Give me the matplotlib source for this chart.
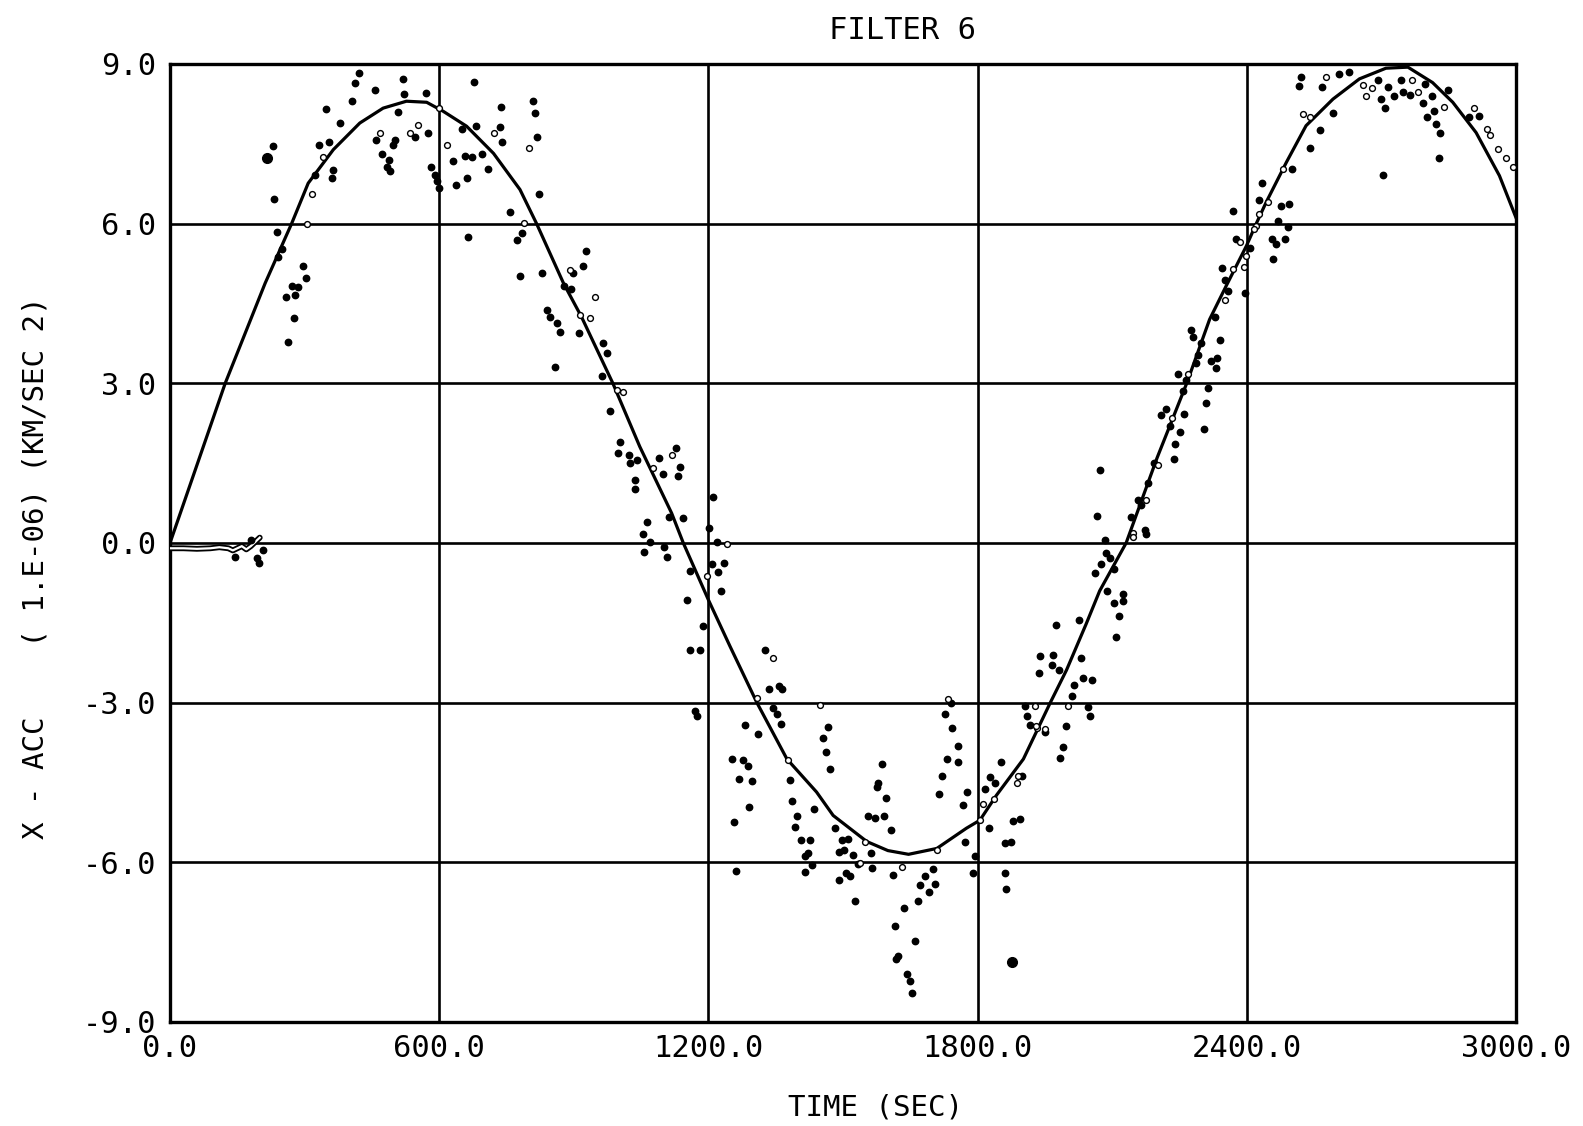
import matplotlib
matplotlib.use("Agg")
import matplotlib.pyplot as plt

# ---------------- data ----------------
x_ticks = [0, 600, 1200, 1800, 2400, 3000]
x_tick_labels = ["0.0", "600.0", "1200.0", "1800.0", "2400.0", "3000.0"]
y_ticks = [-9, -6, -3, 0, 3, 6, 9]
y_tick_labels = ["-9.0", "-6.0", "-3.0", "0.0", "3.0", "6.0", "9.0"]

# true acceleration curve
curve_t = [0, 123, 212, 271, 308, 364, 423, 475, 527, 572, 609, 661, 721, 780,
           817, 877, 917, 987, 1047, 1118, 1144, 1200, 1248, 1308, 1375, 1441,
           1478, 1553, 1600, 1646, 1709, 1775, 1805, 1842, 1902, 1962, 1998,
           2042, 2072, 2131, 2200, 2266, 2317, 2354, 2399, 2421, 2443, 2488,
           2532, 2592, 2651, 2710, 2759, 2814, 2859, 2911, 2963, 3000]
curve_y = [0.0, 3.0, 4.88, 6.0, 6.76, 7.39, 7.89, 8.17, 8.30, 8.28, 8.11, 7.83,
           7.32, 6.64, 6.0, 4.88, 4.25, 3.0, 1.81, 0.56, 0.0, -1.07, -1.94,
           -3.0, -4.06, -4.68, -5.12, -5.61, -5.78, -5.85, -5.74, -5.36, -5.21,
           -4.74, -4.06, -3.0, -2.39, -1.52, -0.90, 0.0, 1.60, 3.0, 4.20, 4.83,
           5.58, 6.0, 6.40, 7.15, 7.84, 8.34, 8.72, 8.92, 8.94, 8.65, 8.28,
           7.71, 6.90, 6.11]

# filter estimate before convergence (hollow trace near zero)
start_t = [0, 30, 60, 90, 110, 130, 140, 150, 160, 170, 180, 190, 200]
start_y = [-0.10, -0.10, -0.11, -0.10, -0.08, -0.10, -0.14, -0.10, -0.06,
           -0.12, -0.06, 0.02, 0.10]

# measurements (filled dots)
meas_t = [
    421, 412, 405, 457, 519, 522, 570, 678, 347, 379, 509, 460, 501, 498, 546,
    576, 472, 487, 483, 490, 582, 591, 594, 600, 229, 217, 333, 355, 323, 364,
    362, 232, 238, 249, 241, 296, 302, 286, 271, 258, 279, 277, 262, 631, 650,
    658, 674, 683, 695, 709, 661, 637, 736, 737, 741, 808, 814, 817, 823, 758,
    784, 773, 665, 779, 830, 927, 921, 899, 877, 893, 840, 847, 863, 869, 912,
    966, 973, 858, 962, 981, 1003, 999, 1022, 1025, 1040, 1036, 1036,
    1089, 1128, 1137, 1132, 1098, 1063, 1054, 1070, 1100, 1107, 1057, 1113,
    1143, 1211, 1201, 1219, 1207, 1235, 1222, 1159,
    1152, 1227, 1187, 1159, 1181, 1170, 1174, 1326, 1334, 1358, 1365, 1343,
    1352, 1362, 1282, 1311, 1466, 1456, 1462, 1471, 1252, 1276, 1288, 1269,
    1297, 1291, 1256, 1382, 1387, 1398, 1393, 1436, 1406, 1427, 1422, 1415,
    1430, 1415, 1482, 1497, 1512, 1490, 1502, 1522, 1492, 1507, 1516, 1527,
    1534, 1556, 1571, 1592, 1586, 1579, 1576, 1596, 1607, 1562, 1564, 1612,
    1637, 1666, 1672, 1692, 1706, 1682, 1700, 1616, 1660, 1623, 1619, 1642,
    1649, 1654, 1741, 1727, 1742, 1757, 1731, 1757, 1720, 1715, 1776, 1768,
    1772, 1794, 1790, 1817, 1827, 1839, 1852, 1900, 1826, 1861, 1874, 1878,
    1894, 1861, 1864, 1905, 1910, 1916, 1950, 1940, 1937, 1262,
    2066, 2083, 2087, 2094, 2074, 2061, 2142, 2172, 2176, 2105, 2088, 2125,
    2123, 2105, 2115, 2109, 1975, 2026, 1969, 1966, 1981, 2031, 2035, 2055,
    2014, 2011, 2046, 2050, 1996, 1990, 1984,
    2520, 2517, 2568, 2606, 2627, 2692, 2714, 2744, 2798, 2699, 2729, 2748,
    2763, 2813, 2848, 2707, 2792, 2817, 2801, 2822, 2831, 2828, 2703, 2592,
    2562, 2541, 2501, 2896, 2918, 2434, 2428, 2476, 2495, 2370, 2469, 2491,
    2375, 2456, 2465, 2484, 2459, 2407, 2345, 2352, 2358, 2395, 2328, 2276,
    2281, 2298, 2340, 2291, 2287, 2333, 2321, 2332, 2246, 2265, 2313, 2257,
    2309, 2219, 2209, 2261, 2305, 2228, 2252, 2241, 2237, 2194, 2072, 2157,
    2165, 2180,
    145, 193, 199, 208, 180]
meas_y = [
    8.83, 8.64, 8.30, 8.52, 8.72, 8.44, 8.46, 8.66, 8.15, 7.89, 8.09, 7.58,
    7.58, 7.48, 7.63, 7.71, 7.31, 7.19, 7.06, 6.98, 7.07, 6.92, 6.81, 6.67,
    7.45, 7.23, 7.48, 7.54, 6.92, 7.01, 6.85, 6.47, 5.85, 5.53, 5.38, 5.21,
    4.97, 4.80, 4.82, 4.63, 4.66, 4.22, 3.78, 7.17, 7.78, 7.27, 7.25, 7.84,
    7.31, 7.02, 6.85, 6.73, 7.81, 8.19, 7.54, 8.31, 8.08, 7.63, 6.56, 6.21,
    5.82, 5.70, 5.74, 5.01, 5.07, 5.49, 5.21, 5.08, 4.83, 4.77, 4.38, 4.25,
    4.14, 3.97, 3.94, 3.75, 3.57, 3.31, 3.14, 2.47, 1.89, 1.69, 1.65, 1.50,
    1.56, 1.18, 1.01,
    1.60, 1.79, 1.43, 1.25, 1.29, 0.40, 0.17, 0.02, -0.07, -0.27, -0.17, 0.49,
    0.47, 0.87, 0.28, 0.02, -0.40, -0.37, -0.55, -0.52,
    -1.07, -0.90, -1.56, -2.02, -2.02, -3.15, -3.25, -2.02, -2.74, -2.69,
    -2.74, -3.11, -3.22, -3.40, -3.42, -3.59, -3.45, -3.67, -3.92, -4.24,
    -4.06, -4.08, -4.19, -4.44, -4.47, -4.97, -5.25, -4.46, -4.85, -5.13,
    -5.33, -5.00, -5.58, -5.58, -5.83, -5.89, -6.05, -6.19, -5.35, -5.58,
    -5.57, -5.81, -5.77, -5.86, -6.33, -6.20, -6.25, -6.72, -6.04, -5.13,
    -5.16, -5.13, -4.15, -4.51, -4.59, -4.80, -5.40, -5.82, -6.11, -6.24,
    -6.85, -6.73, -6.43, -6.56, -6.40, -6.25, -6.12, -7.20, -7.48, -7.76,
    -7.82, -8.10, -8.23, -8.46, -3.00, -3.22, -3.47, -3.82, -4.06, -4.12,
    -4.37, -4.72, -4.68, -4.93, -5.61, -5.89, -6.20, -4.63, -4.40, -4.51,
    -4.12, -4.37, -5.36, -5.63, -5.61, -5.23, -5.18, -6.20, -6.50, -3.07,
    -3.25, -3.42, -3.56, -2.13, -2.44, -6.16,
    0.50, 0.06, -0.19, -0.28, -0.39, -0.57, 0.48, 0.25, 0.17, -0.48, -0.90,
    -0.95, -1.09, -1.12, -1.38, -1.76, -1.55, -1.44, -2.10, -2.29, -2.39,
    -2.16, -2.54, -2.57, -2.66, -2.88, -3.09, -3.26, -3.43, -3.84, -4.04,
    8.75, 8.59, 8.56, 8.81, 8.84, 8.69, 8.56, 8.69, 8.62, 8.34, 8.39, 8.47,
    8.42, 8.40, 8.52, 8.17, 8.27, 8.12, 8.00, 7.88, 7.71, 7.24, 6.91, 8.08,
    7.75, 7.43, 7.02, 8.01, 8.03, 6.76, 6.45, 6.33, 6.37, 6.23, 6.05, 5.93,
    5.71, 5.72, 5.61, 5.72, 5.33, 5.55, 5.17, 4.95, 4.73, 4.69, 4.25, 4.01,
    3.87, 3.76, 3.81, 3.54, 3.39, 3.48, 3.42, 3.29, 3.17, 3.07, 2.91, 2.85,
    2.63, 2.51, 2.41, 2.43, 2.14, 2.19, 2.08, 1.85, 1.58, 1.50, 1.38, 0.81,
    0.71, 1.13,
    -0.26, -0.28, -0.38, -0.13, 0.05]

# isolated large dots
big_t = [217, 1876]
big_y = [7.23, -7.88]

# filter estimates (open circles)
est_t = [316, 342, 305, 468, 535, 553, 617, 721, 799, 788, 892, 947, 914, 936,
         996, 1010, 1077, 1118, 1241, 1196, 1343, 1308, 1449, 1378, 1549, 1538,
         1631, 1709, 1733, 1805, 1813, 1837, 1887, 1928, 1933, 2001, 1951, 1931,
         1890, 2146, 2577, 2658, 2679, 2666, 2768, 2781, 2840, 2526, 2540, 2480,
         2907, 2935, 2942, 2959, 2978, 2993, 2447, 2427, 2421, 2415, 2384, 2399,
         2393, 2369, 2352, 2269, 2234, 2202, 2176, 2146, 600]
est_y = [6.56, 7.26, 5.99, 7.71, 7.70, 7.86, 7.48, 7.70, 7.42, 6.01, 5.13, 4.63,
         4.29, 4.22, 2.88, 2.84, 1.41, 1.66, -0.02, -0.62, -2.16, -2.91, -3.05,
         -4.07, -5.62, -6.02, -6.08, -5.76, -2.94, -5.20, -4.90, -4.81, -4.51,
         -3.06, -3.48, -3.06, -3.50, -3.43, -4.38, 0.19, 8.75, 8.60, 8.54, 8.40,
         8.69, 8.47, 8.20, 8.06, 8.00, 7.02, 8.18, 7.78, 7.66, 7.40, 7.24, 7.07,
         6.40, 6.18, 5.96, 5.89, 5.66, 5.39, 5.19, 5.15, 4.56, 3.17, 2.35, 1.47,
         0.80, 0.11, 8.18]

# ---------------- figure ----------------
mono = ["DejaVu Sans Mono"]
fig = plt.figure(figsize=(15.83, 11.26), dpi=100)
ax = fig.add_axes([0.1074, 0.0924, 0.8503, 0.8508])

ax.set_xlim(0, 3000)
ax.set_ylim(-9, 9)
ax.set_xticks(x_ticks)
ax.set_xticklabels(x_tick_labels, fontfamily=mono, fontsize=22)
ax.set_yticks(y_ticks)
ax.set_yticklabels(y_tick_labels, fontfamily=mono, fontsize=22)
ax.tick_params(axis="both", length=0)
ax.tick_params(axis="x", pad=9)
ax.tick_params(axis="y", pad=10)
ax.grid(True, color="black", linewidth=1.9)
ax.set_axisbelow(True)
for s in ax.spines.values():
    s.set_linewidth(2.4)
    s.set_color("black")

# hollow start trace
ax.plot(start_t, start_y, color="black", linewidth=4.2, zorder=3,
        solid_capstyle="round")
ax.plot(start_t, start_y, color="white", linewidth=1.6, zorder=3.1)

# measurements
ax.plot(meas_t, meas_y, linestyle="none", marker="o", markersize=4.6,
        color="black", zorder=4)
ax.plot(big_t, big_y, linestyle="none", marker="o", markersize=7,
        color="black", zorder=4)

# true curve
ax.plot(curve_t, curve_y, color="black", linewidth=2.3, zorder=5,
        solid_joinstyle="round")

# estimates
ax.plot(est_t, est_y, linestyle="none", marker="o", markersize=4.2,
        markerfacecolor="white", markeredgecolor="black",
        markeredgewidth=1.0, zorder=6)

fig.text(0.570, 0.973, "FILTER 6", fontfamily=mono, fontsize=22,
         ha="center", va="center")
fig.text(0.553, 0.016, "TIME (SEC)", fontfamily=mono, fontsize=21,
         ha="center", va="center")
fig.text(0.0225, 0.496, "X - ACC    ( 1.E-06) (KM/SEC 2)", fontfamily=mono,
         fontsize=21, rotation=90, ha="center", va="center")

fig.savefig("out.png", dpi=100)
